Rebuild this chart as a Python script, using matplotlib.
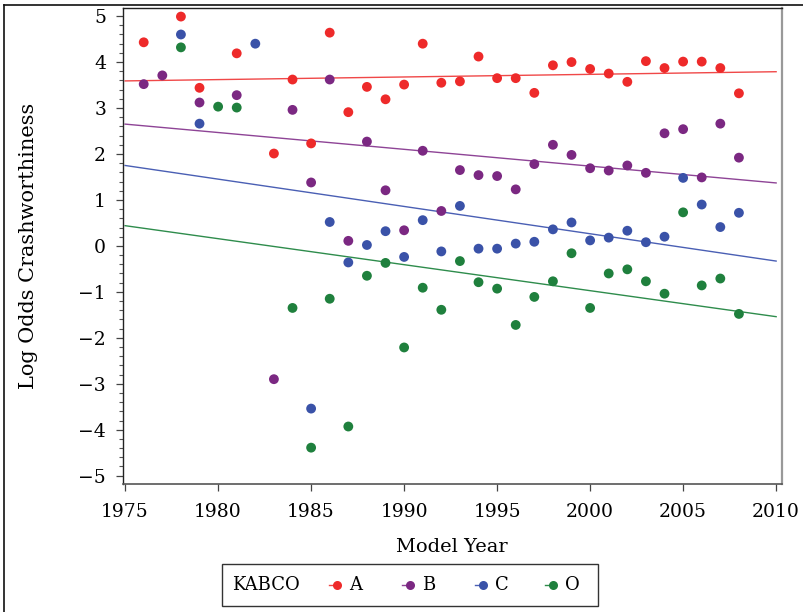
import matplotlib
matplotlib.use("Agg")
import matplotlib.pyplot as plt
from matplotlib.lines import Line2D
from matplotlib.patches import Rectangle
from matplotlib.ticker import MultipleLocator

plt.rcParams['font.family'] = ['DejaVu Serif']

# Log odds crashworthiness by model year, per KABCO injury level
years_A = [1976, 1978, 1979, 1981, 1983, 1984, 1985, 1986, 1987, 1988, 1989,
           1990, 1991, 1992, 1993, 1994, 1995, 1996, 1997, 1998, 1999, 2000,
           2001, 2002, 2003, 2004, 2005, 2006, 2007, 2008]
values_A = [4.43, 4.99, 3.44, 4.19, 2.01, 3.62, 2.23, 4.64, 2.91, 3.46, 3.19,
            3.51, 4.40, 3.55, 3.58, 4.12, 3.65, 3.65, 3.33, 3.93, 4.00, 3.85,
            3.75, 3.57, 4.02, 3.87, 4.01, 4.01, 3.87, 3.32]

years_B = [1976, 1977, 1979, 1981, 1983, 1984, 1985, 1986, 1987, 1988, 1989,
           1990, 1991, 1992, 1993, 1994, 1995, 1996, 1997, 1998, 1999, 2000,
           2001, 2002, 2003, 2004, 2005, 2006, 2007, 2008]
values_B = [3.52, 3.71, 3.12, 3.28, -2.90, 2.96, 1.38, 3.62, 0.11, 2.27, 1.21,
            0.34, 2.07, 0.76, 1.65, 1.54, 1.52, 1.23, 1.78, 2.20, 1.98, 1.69,
            1.64, 1.75, 1.59, 2.45, 2.54, 1.49, 2.66, 1.92]

years_C = [1978, 1979, 1982, 1985, 1986, 1987, 1988, 1989, 1990, 1991, 1992,
           1993, 1994, 1995, 1996, 1997, 1998, 1999, 2000, 2001, 2002, 2003,
           2004, 2005, 2006, 2007, 2008]
values_C = [4.60, 2.66, 4.40, -3.54, 0.52, -0.36, 0.02, 0.32, -0.24, 0.56, -0.12,
            0.87, -0.06, -0.06, 0.05, 0.09, 0.36, 0.51, 0.12, 0.18, 0.33, 0.08,
            0.20, 1.48, 0.90, 0.41, 0.72]

years_O = [1978, 1980, 1981, 1984, 1985, 1986, 1987, 1988, 1989, 1990, 1991,
           1992, 1993, 1994, 1995, 1996, 1997, 1998, 1999, 2000, 2001, 2002,
           2003, 2004, 2005, 2006, 2007, 2008]
values_O = [4.32, 3.03, 3.01, -1.35, -4.39, -1.15, -3.93, -0.65, -0.37, -2.21, -0.91,
            -1.39, -0.33, -0.79, -0.93, -1.72, -1.11, -0.77, -0.16, -1.35, -0.60, -0.51,
            -0.77, -1.04, 0.73, -0.86, -0.71, -1.48]

# Fitted trend lines, evaluated at the ends of the year range
trend_years = [1975, 2010]
trend_A = [3.59, 3.79]
trend_B = [2.65, 1.37]
trend_C = [1.75, -0.33]
trend_O = [0.44, -1.54]

labels = ['A', 'B', 'C', 'O']
point_colors = ['#ee2a2a', '#7b2882', '#3a52a8', '#1f803d']
line_colors = ['#f04848', '#8e4496', '#4a5fb4', '#2e8c4c']

series = [
    (years_A, values_A, trend_A),
    (years_B, values_B, trend_B),
    (years_C, values_C, trend_C),
    (years_O, values_O, trend_O),
]

W, H = 804, 612
fig = plt.figure(figsize=(W / 100, H / 100), dpi=100)


def fx(px):
    return px / W


def fy(py):
    return 1 - py / H


ax = fig.add_axes([fx(122.7), fy(483.5), fx(781.7) - fx(122.7), fy(8.3) - fy(483.5)])

for (yrs, vals, trend), lc in zip(series, line_colors):
    ax.plot(trend_years, trend, color=lc, lw=1.0, zorder=2)
for (yrs, vals, trend), pc in zip(series, point_colors):
    ax.scatter(yrs, vals, s=50, color=pc, edgecolors='none', zorder=3)

ax.set_xlim(1974.87, 2010.3)
ax.set_ylim(-5.17, 5.17)
ax.xaxis.set_major_locator(MultipleLocator(5))
ax.yaxis.set_major_locator(MultipleLocator(1))
ax.yaxis.set_minor_locator(MultipleLocator(0.2))

ax.tick_params(axis='both', which='major', direction='out', length=5, width=0.9,
               color='#444444', labelsize=13.5)
ax.tick_params(axis='y', which='minor', direction='out', length=3.2, width=0.8,
               color='#555555')
ax.tick_params(axis='x', pad=9)
ax.tick_params(axis='y', pad=7)

for side in ['left', 'top']:
    ax.spines[side].set_color('#222222')
    ax.spines[side].set_linewidth(1.0)
ax.spines['bottom'].set_color('#555555')
ax.spines['bottom'].set_linewidth(1.2)
ax.spines['right'].set_color('#999999')
ax.spines['right'].set_linewidth(1.6)

ax.set_xlabel('Model Year', fontsize=14, labelpad=12)
ax.set_ylabel('Log Odds Crashworthiness', fontsize=15)
ax.yaxis.set_label_coords(-(122.7 - 38) / (781.7 - 122.7), 0.5)

# Outer frame along the top and left edges
fig.add_artist(Line2D([fx(4), 1], [fy(4.5), fy(4.5)], transform=fig.transFigure,
                      color='#111111', lw=1.2))
fig.add_artist(Line2D([fx(4), fx(4)], [0, fy(4.5)], transform=fig.transFigure,
                      color='#111111', lw=1.2))

# Legend box with KABCO title on the left
fig.add_artist(Rectangle((fx(222), fy(606)), fx(598) - fx(222), fy(564) - fy(606),
                         transform=fig.transFigure, facecolor='white',
                         edgecolor='#333333', lw=1.0))
fig.text(fx(232), fy(585), 'KABCO', fontsize=13, ha='left', va='center')
marker_x = [337, 410, 483, 553]
for mx, lab, pc, lc in zip(marker_x, labels, point_colors, line_colors):
    fig.add_artist(Line2D([fx(mx - 8), fx(mx)], [fy(585), fy(585)],
                          transform=fig.transFigure, color=lc, lw=1.0))
    fig.add_artist(Line2D([fx(mx)], [fy(585)], transform=fig.transFigure,
                          marker='o', markersize=6.5, color=pc, linestyle='none',
                          markeredgewidth=0))
    fig.text(fx(mx + 12), fy(585), lab, fontsize=13, ha='left', va='center')

fig.savefig('out.png', dpi=100)
